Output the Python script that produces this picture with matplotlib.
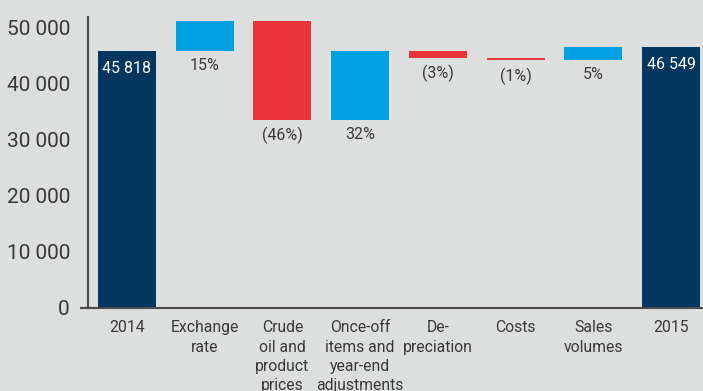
import numpy as np
import matplotlib
matplotlib.use('Agg')
import matplotlib.pyplot as plt
from matplotlib.lines import Line2D

plt.rcParams['font.family'] = ['Roboto', 'DejaVu Sans']

# 数据：起点、各因素变动、终点
categories = ['2014', 'Exchange\nrate', 'Crude\noil and\nproduct\nprices',
              'Once-off\nitems and\nyear-end\nadjustments', 'De-\npreciation',
              'Costs', 'Sales\nvolumes', '2015']
start_value = 45818
end_value = 46549
changes = [5400, -17650, 12270, -1230, -380, 2321]
change_labels = ['15%', '(46%)', '32%', '(3%)', '(1%)', '5%']
yticks = [0, 10000, 20000, 30000, 40000, 50000]

BG = '#dddfde'
NAVY = '#03375f'
BLUE = '#00a0e2'
RED = '#e8343a'
TEXT = '#383838'
AXIS = '#4a4a4a'

fig = plt.figure(figsize=(7.03, 3.91), dpi=100, facecolor=BG)
ax = fig.add_axes([0.1252, 0.213, 0.8748, 0.7435], facecolor=BG)

width = 0.746
x = np.arange(len(categories))

# 起点柱
ax.bar(x[0], start_value, width=width, color=NAVY)
ax.text(x[0], start_value - 1750, f'{start_value:,}'.replace(',', ' '),
        ha='center', va='top', color='white', fontsize=11.5)

# 变动柱
level = start_value
for i, (d, lab) in enumerate(zip(changes, change_labels), start=1):
    bottom = level if d >= 0 else level + d
    ax.bar(x[i], abs(d), bottom=bottom, width=width,
           color=BLUE if d >= 0 else RED)
    ax.text(x[i], bottom - 1300, lab, ha='center', va='top',
            color=TEXT, fontsize=11.5)
    level += d

# 终点柱
ax.bar(x[-1], end_value, width=width, color=NAVY)
ax.text(x[-1], end_value - 1750, f'{end_value:,}'.replace(',', ' '),
        ha='center', va='top', color='white', fontsize=11.5)

ax.set_xlim(-0.5, 7.41)
ax.set_ylim(0, 51900)
ax.set_yticks(yticks)
ax.set_yticklabels([f'{v:,}'.replace(',', ' ') for v in yticks])
ax.set_xticks(x)
ax.set_xticklabels(categories, linespacing=1.36)

for s in ['top', 'right']:
    ax.spines[s].set_visible(False)
for s in ['left', 'bottom']:
    ax.spines[s].set_color(AXIS)
    ax.spines[s].set_linewidth(1.5)

ax.tick_params(axis='y', length=0, pad=13, labelsize=15, labelcolor=TEXT)
ax.tick_params(axis='x', length=0, pad=9, labelsize=11.3, labelcolor=TEXT)

# 零线向左延伸一点
ax.add_line(Line2D([-0.012, 0], [0, 0], transform=ax.transAxes,
                   color=AXIS, lw=1.5, clip_on=False))

fig.savefig('out.png', dpi=100, facecolor=BG)
